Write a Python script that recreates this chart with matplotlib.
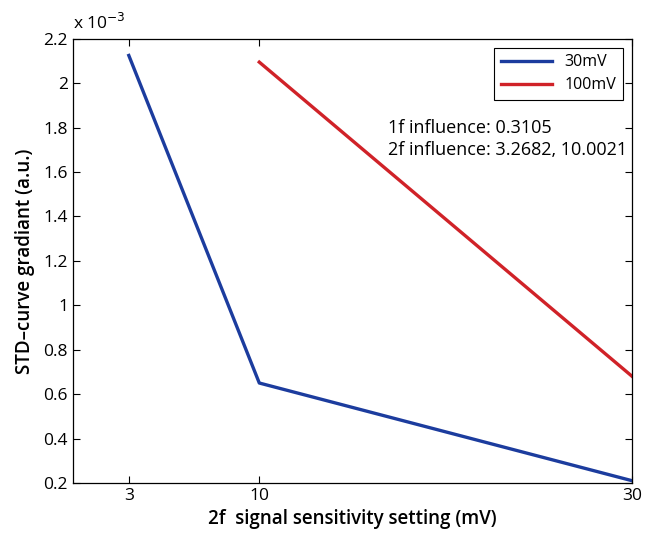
import matplotlib
matplotlib.use("Agg")
import matplotlib.pyplot as plt
from matplotlib.ticker import FuncFormatter

# Data
x_30mv = [3, 10, 30]
y_30mv = [2.125e-3, 0.65e-3, 0.21e-3]
x_100mv = [10, 30]
y_100mv = [2.095e-3, 0.68e-3]
xticks = [3, 10, 30]
yticks = [0.2e-3, 0.4e-3, 0.6e-3, 0.8e-3, 1.0e-3, 1.2e-3, 1.4e-3, 1.6e-3, 1.8e-3, 2.0e-3, 2.2e-3]

plt.rcParams['font.family'] = ['Open Sans', 'DejaVu Sans']

fig = plt.figure(figsize=(6.45, 5.39), dpi=100)
ax = fig.add_axes([0.113, 0.104, 0.867, 0.824])

ax.plot(x_30mv, y_30mv, color="#1c3c9e", linewidth=2.4, label="30mV")
ax.plot(x_100mv, y_100mv, color="#d02228", linewidth=2.4, label="100mV")

ax.set_xlim(0, 30)
ax.set_ylim(0.2e-3, 2.2e-3)
ax.set_xticks(xticks)
ax.set_yticks(yticks)
ax.yaxis.set_major_formatter(FuncFormatter(lambda v, p: f"{v * 1e3:g}"))
ax.tick_params(direction="in", top=True, right=True, labelsize=12.5, length=5, width=0.8)
for s in ax.spines.values():
    s.set_linewidth(0.9)

ax.set_xlabel("2f  signal sensitivity setting (mV)", fontsize=13.5, fontweight="semibold", labelpad=4)
ax.set_ylabel("STD\u2013curve gradiant (a.u.)", fontsize=13.5, fontweight="semibold", labelpad=6)

ax.text(0.0, 1.012, r"x 10$^{-3}$", transform=ax.transAxes, fontsize=12.5, ha="left", va="bottom")

ax.text(0.563, 0.775, "1f influence: 0.3105\n2f influence: 3.2682, 10.0021",
        transform=ax.transAxes, fontsize=13, ha="left", va="center", linespacing=1.3)

leg = ax.legend(loc="upper right", fontsize=11.5, fancybox=False, framealpha=1,
                edgecolor="black", handlelength=3.2, borderpad=0.4, labelspacing=0.45,
                bbox_to_anchor=(0.9975, 0.9975))
leg.get_frame().set_linewidth(0.8)

fig.savefig("out.png", dpi=100)
